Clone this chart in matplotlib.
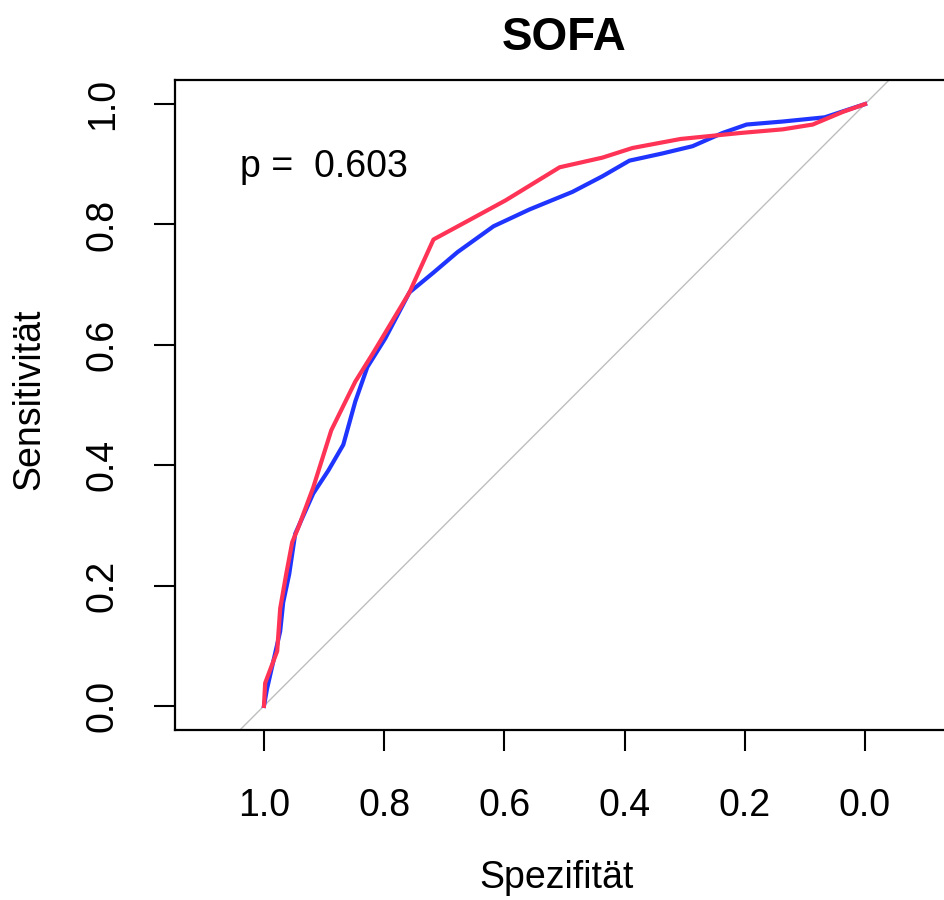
import matplotlib
matplotlib.use("Agg")
import matplotlib.pyplot as plt

# ---- data ----
blue_spec = [1.0, 0.995, 0.973, 0.968, 0.958, 0.948, 0.918, 0.893, 0.868, 0.848,
             0.828, 0.798, 0.758, 0.718, 0.678, 0.618, 0.558, 0.487, 0.437, 0.392,
             0.337, 0.287, 0.237, 0.197, 0.137, 0.067, 0.0]
blue_sens = [0.0, 0.028, 0.124, 0.172, 0.219, 0.286, 0.353, 0.391, 0.434, 0.506,
             0.563, 0.611, 0.687, 0.720, 0.754, 0.797, 0.825, 0.854, 0.880, 0.906,
             0.918, 0.930, 0.952, 0.966, 0.971, 0.978, 1.0]

red_spec = [1.0, 0.998, 0.978, 0.973, 0.963, 0.953, 0.943, 0.918, 0.888, 0.848,
            0.818, 0.758, 0.718, 0.668, 0.598, 0.508, 0.437, 0.387, 0.307, 0.207,
            0.137, 0.087, 0.037, 0.0]
red_sens = [0.0, 0.038, 0.091, 0.162, 0.219, 0.272, 0.296, 0.363, 0.458, 0.539,
            0.587, 0.687, 0.775, 0.802, 0.840, 0.895, 0.911, 0.927, 0.942, 0.952,
            0.958, 0.966, 0.987, 1.0]

ticks = [1.0, 0.8, 0.6, 0.4, 0.2, 0.0]
tick_labels = ["1.0", "0.8", "0.6", "0.4", "0.2", "0.0"]
yticks = [0.0, 0.2, 0.4, 0.6, 0.8, 1.0]
ytick_labels = ["0.0", "0.2", "0.4", "0.6", "0.8", "1.0"]
title = "SOFA"
p_text = "p =  0.603"

plt.rcParams['font.family'] = ['Liberation Sans', 'DejaVu Sans']

W, H = 945, 900
fig = plt.figure(figsize=(W / 100, H / 100), dpi=100)
L, R, T, B = 175, 954, 80, 730
ax = fig.add_axes([L / W, 1 - B / H, (R - L) / W, (B - T) / H])

ax.set_xlim(1.148, -0.148)
ax.set_ylim(-0.04, 1.04)

# diagonal reference line
ax.plot([1.3, -0.3], [-0.3, 1.3], color="#bebebe", lw=1.0, zorder=1)

ax.plot(blue_spec, blue_sens, color="#1f35ff", lw=3.0, zorder=2,
        solid_joinstyle="round")
ax.plot(red_spec, red_sens, color="#ff3355", lw=3.0, zorder=3,
        solid_joinstyle="round")

ax.text(0.9, 0.895, p_text, fontsize=27, ha="center", va="center")

ax.set_xticks(ticks)
ax.set_xticklabels(tick_labels)
ax.set_yticks(yticks)
ax.set_yticklabels(ytick_labels, rotation=90, va="center")
ax.tick_params(axis="both", length=15, width=1.5, labelsize=27, direction="out")
ax.tick_params(axis="x", pad=27)
ax.tick_params(axis="y", pad=24)

for s in ax.spines.values():
    s.set_linewidth(1.6)

ax.set_xlabel("Spezifität", fontsize=27)
ax.xaxis.label.set_va("center")
ax.xaxis.set_label_coords((557 - L) / (R - L), (B - 878) / (B - T))
ax.set_ylabel("Sensitivität", fontsize=27)
ax.yaxis.label.set_va("center")
ax.yaxis.set_label_coords((29 - L) / (R - L), (B - 399) / (B - T))

ax.set_title(title, fontsize=33, fontweight="bold", y=(B - 46) / (B - T), va="center")

fig.savefig("out.png", dpi=100)
